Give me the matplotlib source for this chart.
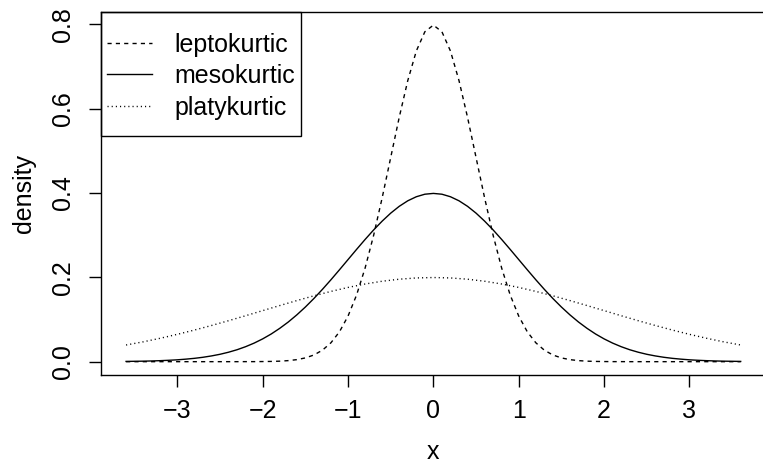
import numpy as np
import matplotlib

matplotlib.use("Agg")
import matplotlib.pyplot as plt
from matplotlib.patches import Rectangle

plt.rcParams["font.family"] = ["Liberation Sans", "DejaVu Sans"]

# density values
x_fine = np.round(np.arange(-36, 37) / 10, 1)      # step 0.1
x_coarse = np.round(np.arange(-18, 19) / 5, 1)     # step 0.2

leptokurtic = [
    0.0000, 0.0000, 0.0000, 0.0000, 0.0000, 0.0000, 0.0000, 0.0000, 0.0000, 0.0000,
    0.0000, 0.0000, 0.0000, 0.0000, 0.0001, 0.0001, 0.0003, 0.0006, 0.0012,
    0.0025, 0.0048, 0.0089, 0.0158, 0.0272, 0.0448, 0.0709, 0.1080, 0.1579, 0.2218,
    0.2995, 0.3884, 0.4839, 0.5794, 0.6664, 0.7365, 0.7821,
    0.7979,
    0.7821, 0.7365, 0.6664, 0.5794, 0.4839, 0.3884, 0.2995, 0.2218, 0.1579, 0.1080,
    0.0709, 0.0448, 0.0272, 0.0158, 0.0089, 0.0048, 0.0025, 0.0012, 0.0006, 0.0003,
    0.0001, 0.0001, 0.0000, 0.0000, 0.0000, 0.0000, 0.0000, 0.0000, 0.0000, 0.0000,
    0.0000, 0.0000, 0.0000, 0.0000, 0.0000, 0.0000,
]
mesokurtic = [
    0.0006, 0.0009, 0.0012, 0.0017, 0.0024, 0.0033, 0.0044, 0.0060, 0.0079, 0.0104,
    0.0136, 0.0175, 0.0224, 0.0283, 0.0355, 0.0440, 0.0540, 0.0656, 0.0790, 0.0940,
    0.1109, 0.1295, 0.1497, 0.1714, 0.1942, 0.2179, 0.2420, 0.2661, 0.2897, 0.3123,
    0.3332, 0.3521, 0.3683, 0.3814, 0.3910, 0.3970,
    0.3989,
    0.3970, 0.3910, 0.3814, 0.3683, 0.3521, 0.3332, 0.3123, 0.2897, 0.2661, 0.2420,
    0.2179, 0.1942, 0.1714, 0.1497, 0.1295, 0.1109, 0.0940, 0.0790, 0.0656, 0.0540,
    0.0440, 0.0355, 0.0283, 0.0224, 0.0175, 0.0136, 0.0104, 0.0079, 0.0060, 0.0044,
    0.0033, 0.0024, 0.0017, 0.0012, 0.0009, 0.0006,
]
platykurtic = [
    0.0395, 0.0470, 0.0555, 0.0648, 0.0749, 0.0857, 0.0971, 0.1089, 0.1210, 0.1330,
    0.1448, 0.1561, 0.1666, 0.1760, 0.1841, 0.1907, 0.1955, 0.1985,
    0.1995,
    0.1985, 0.1955, 0.1907, 0.1841, 0.1760, 0.1666, 0.1561, 0.1448, 0.1330, 0.1210,
    0.1089, 0.0971, 0.0857, 0.0749, 0.0648, 0.0555, 0.0470, 0.0395,
]
x_ticks = [-3, -2, -1, 0, 1, 2, 3]
y_ticks = [0.0, 0.2, 0.4, 0.6, 0.8]

fig = plt.figure(figsize=(7.63, 4.66), dpi=100)
ax = fig.add_axes([0.133, 0.195, 0.870, 0.780])

ax.plot(x_fine, leptokurtic, color="black", lw=1.0, ls=(0, (3, 3)), label="leptokurtic")
ax.plot(x_fine, mesokurtic, color="black", lw=1.0, label="mesokurtic")
ax.plot(x_coarse, platykurtic, color="black", lw=1.0, ls=(0, (0.8, 2.2)), label="platykurtic")

ax.set_xlim(-3.888, 3.888)
ax.set_ylim(-0.0319, 0.8298)
ax.set_xticks(x_ticks)
ax.set_yticks(y_ticks)
ax.set_yticklabels([f"{v:.1f}" for v in y_ticks], rotation=90, va="center")
ax.tick_params(length=8.4, width=1, labelsize=18, colors="black")
ax.tick_params(axis="x", pad=9)
ax.tick_params(axis="y", pad=10.7)
for s in ax.spines.values():
    s.set_linewidth(1)
# the box's right edge falls just outside the picture
ax.spines["right"].set_visible(False)

ax.set_xlabel("x", fontsize=18, labelpad=12)
ax.set_ylabel("density", fontsize=18, labelpad=11)

leg = ax.legend(loc="center left", bbox_to_anchor=(0.0083, 0.8226), frameon=False,
                borderpad=0, borderaxespad=0, handlelength=1.8, handletextpad=0.9,
                labelspacing=0.3, fontsize=18)
ax.add_patch(Rectangle((0, 0.6575), 0.3005, 0.3425, transform=ax.transAxes,
                       fill=False, lw=1, ec="black", clip_on=False, zorder=5))

fig.savefig("out.png", dpi=100)
